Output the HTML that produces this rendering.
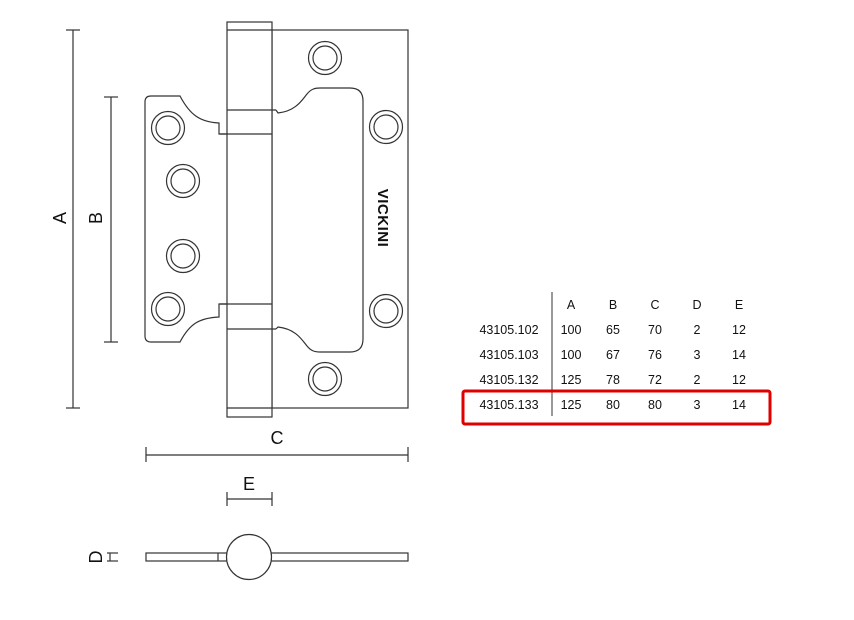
<!DOCTYPE html>
<html><head><meta charset="utf-8"><style>
html,body{margin:0;padding:0;background:#fff;}
svg{display:block}
text{font-family:"Liberation Sans",sans-serif;fill:#111}
</style></head><body>
<svg width="854" height="620" viewBox="0 0 854 620" xmlns="http://www.w3.org/2000/svg">
<g fill="none" stroke="#333" stroke-width="1.2">
<!-- right leaf -->
<rect x="272" y="30" width="136" height="378"/>
<!-- pin -->
<rect x="227" y="22" width="45" height="395" fill="#fff"/>
<line x1="227" y1="30" x2="272" y2="30"/>
<line x1="227" y1="408" x2="272" y2="408"/>
<!-- knuckle lines -->
<line x1="220" y1="134" x2="272" y2="134"/>
<line x1="227" y1="110" x2="276" y2="110"/>
<line x1="220" y1="304" x2="272" y2="304"/>
<line x1="227" y1="329" x2="276" y2="329"/>
<!-- cutout -->
<path d="M276 110 L278 113 C296 111 302 100 307 94 C311 89 315 88 320 88 L350 88 Q363 88 363 101 L363 339 Q363 352 350 352 L320 352 C315 352 311 351 307 346 C302 340 296 329 278 327 L276 329"/>
<!-- left leaf -->
<path d="M227 134 L219 134 L219 123 C200 122 190 115 180 96 L151 96 Q145 96 145 102 L145 336 Q145 342 151 342 L180 342 C190 323 200 318 219 317 L219 304 L227 304"/>
<!-- holes -->
<g>
<circle cx="168" cy="128" r="16.5"/><circle cx="168" cy="128" r="12"/>
<circle cx="183" cy="181" r="16.5"/><circle cx="183" cy="181" r="12"/>
<circle cx="183" cy="256" r="16.5"/><circle cx="183" cy="256" r="12"/>
<circle cx="168" cy="309" r="16.5"/><circle cx="168" cy="309" r="12"/>
<circle cx="325" cy="58" r="16.5"/><circle cx="325" cy="58" r="12"/>
<circle cx="386" cy="127" r="16.5"/><circle cx="386" cy="127" r="12"/>
<circle cx="386" cy="311" r="16.5"/><circle cx="386" cy="311" r="12"/>
<circle cx="325" cy="379" r="16.5"/><circle cx="325" cy="379" r="12"/>
</g>
<!-- dims -->
<line x1="73" y1="30" x2="73" y2="408"/><line x1="66" y1="30" x2="80" y2="30"/><line x1="66" y1="408" x2="80" y2="408"/>
<line x1="111" y1="97" x2="111" y2="342"/><line x1="104" y1="97" x2="118" y2="97"/><line x1="104" y1="342" x2="118" y2="342"/>
<line x1="146" y1="455" x2="408" y2="455"/><line x1="146" y1="447" x2="146" y2="462"/><line x1="408" y1="447" x2="408" y2="462"/>
<line x1="227" y1="499" x2="272" y2="499"/><line x1="227" y1="492" x2="227" y2="506"/><line x1="272" y1="492" x2="272" y2="506"/>
<!-- section -->
<rect x="146" y="553" width="262" height="8"/>
<line x1="218" y1="553" x2="218" y2="561"/>
<circle cx="249" cy="557" r="22.5" fill="#fff"/>
<line x1="107" y1="553" x2="118" y2="553"/><line x1="107" y1="561" x2="118" y2="561"/><line x1="110" y1="553" x2="110" y2="561"/>
<!-- table -->
<line x1="552" y1="292" x2="552" y2="416" stroke="#555"/>
</g>
<text x="0" y="0" font-size="15" font-weight="bold" transform="translate(378,218) rotate(90)" text-anchor="middle" letter-spacing="0.5">VICKINI</text>
<text font-size="18" transform="translate(66,218) rotate(-90)" text-anchor="middle">A</text>
<text font-size="18" transform="translate(102,218) rotate(-90)" text-anchor="middle">B</text>
<text font-size="18" x="277" y="444" text-anchor="middle">C</text>
<text font-size="18" x="249" y="490" text-anchor="middle">E</text>
<text font-size="18" transform="translate(102,557) rotate(-90)" text-anchor="middle">D</text>
<g font-size="12.5" text-anchor="middle">
<text x="571" y="309">A</text><text x="613" y="309">B</text><text x="655" y="309">C</text><text x="697" y="309">D</text><text x="739" y="309">E</text>
<text x="509" y="334">43105.102</text><text x="571" y="334">100</text><text x="613" y="334">65</text><text x="655" y="334">70</text><text x="697" y="334">2</text><text x="739" y="334">12</text>
<text x="509" y="359">43105.103</text><text x="571" y="359">100</text><text x="613" y="359">67</text><text x="655" y="359">76</text><text x="697" y="359">3</text><text x="739" y="359">14</text>
<text x="509" y="384">43105.132</text><text x="571" y="384">125</text><text x="613" y="384">78</text><text x="655" y="384">72</text><text x="697" y="384">2</text><text x="739" y="384">12</text>
<text x="509" y="409">43105.133</text><text x="571" y="409">125</text><text x="613" y="409">80</text><text x="655" y="409">80</text><text x="697" y="409">3</text><text x="739" y="409">14</text>
</g>
<rect x="463" y="391" width="307" height="33" rx="2" fill="none" stroke="#e00000" stroke-width="3"/>
</svg>
</body></html>
